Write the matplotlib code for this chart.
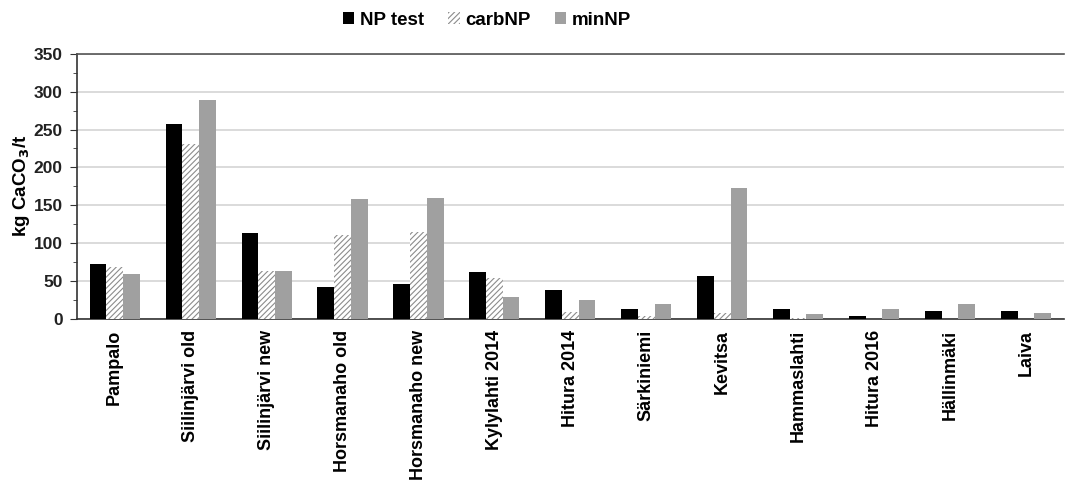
import matplotlib.pyplot as plt
import numpy as np

plt.rcParams['font.family'] = ['Liberation Sans', 'DejaVu Sans']
plt.rcParams['font.weight'] = 'bold'
plt.rcParams['hatch.color'] = '#8c8c8c'
plt.rcParams['hatch.linewidth'] = 0.8

# Data
sites = ['Pampalo', 'Siilinjärvi old', 'Siilinjärvi new', 'Horsmanaho old',
         'Horsmanaho new', 'Kylylahti 2014', 'Hitura 2014', 'Särkiniemi',
         'Kevitsa', 'Hammaslahti', 'Hitura 2016', 'Hällinmäki', 'Laiva']
np_test = [72, 258, 113, 42, 46, 62, 38, 13, 57, 13, 4, 10, 10]
carb_np = [68, 231, 63, 111, 114, 54, 9, 4, 7, 1, 0, 0, 0]
min_np = [59, 289, 63, 158, 159, 28, 24, 19, 173, 6, 13, 19, 8]

fig = plt.figure(figsize=(10.66, 4.82), dpi=100)
ax = fig.add_axes([0.072, 0.339, 0.926, 0.549])

x = np.arange(len(sites))
w = 0.22
ax.bar(x - w, np_test, w, color='black', label='NP test', zorder=3)
ax.bar(x, carb_np, w, color='white', hatch='//////', edgecolor='#8c8c8c',
       linewidth=0, label='carbNP', zorder=3)
ax.bar(x + w, min_np, w, color='#a0a0a0', label='minNP', zorder=3)

ax.set_xlim(-0.5, len(sites) - 0.5)
ax.set_ylim(0, 350)
ax.set_yticks(np.arange(0, 351, 50))
ax.set_yticks(np.arange(0, 351, 25), minor=True)
ax.grid(axis='y', color='#d4d4d4', linewidth=1.2, zorder=0)
ax.set_axisbelow(True)

ax.set_xticks(x)
ax.set_xticklabels(sites, rotation=90, fontsize=13, fontweight='bold')
ax.tick_params(axis='x', length=0, pad=8)
ax.tick_params(axis='y', which='both', direction='out', colors='#333333',
               labelcolor='#222222', labelsize=12.5, pad=5)
ax.tick_params(axis='y', which='major', length=5)
ax.tick_params(axis='y', which='minor', length=3)

for s in ['left', 'bottom', 'top']:
    ax.spines[s].set_color('#333333')
    ax.spines[s].set_linewidth(1.2)
ax.spines['top'].set_color('#555555')
ax.spines['right'].set_visible(False)

ax.set_ylabel('kg CaCO$_\\mathbf{3}$/t', fontsize=13.5, fontweight='bold',
              labelpad=1)

fig.legend(loc='upper center', bbox_to_anchor=(0.457, 1.01), ncol=3,
           frameon=False, fontsize=13.5, handlelength=0.6, handleheight=0.6,
           handletextpad=0.3, columnspacing=1.3)

fig.savefig('out.png', dpi=100)
